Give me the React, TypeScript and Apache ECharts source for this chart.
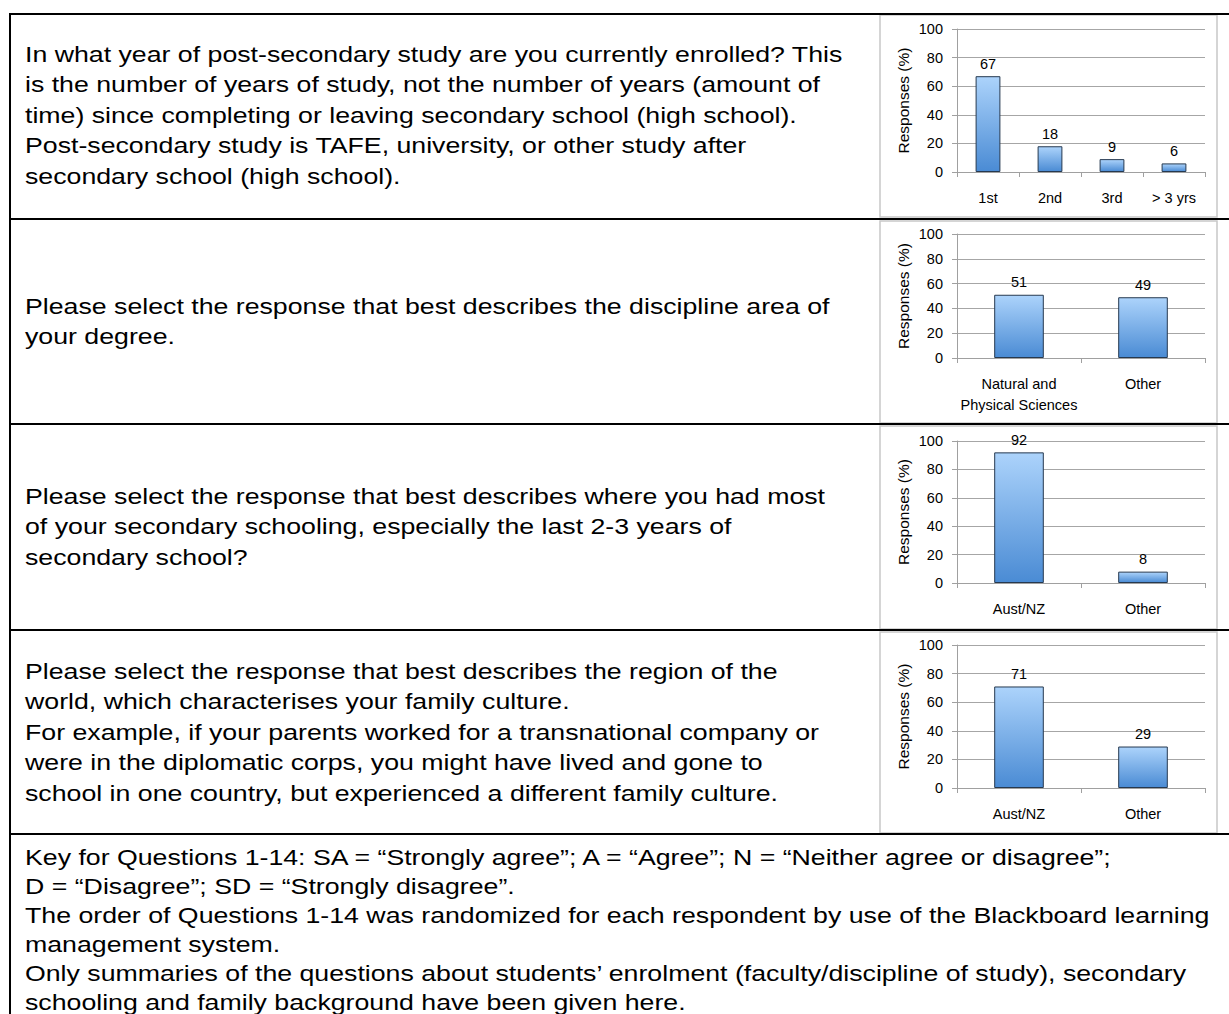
import React, { useEffect, useRef } from 'react';
import * as echarts from 'echarts';

// ---- Data ----
const yearCategories = ['1st', '2nd', '3rd', '> 3 yrs'];
const yearValues = [67, 18, 9, 6];
const disciplineCategories = ['Natural and\nPhysical Sciences', 'Other'];
const disciplineValues = [51, 49];
const schoolingCategories = ['Aust/NZ', 'Other'];
const schoolingValues = [92, 8];
const cultureCategories = ['Aust/NZ', 'Other'];
const cultureValues = [71, 29];
const yAxisMin = 0;
const yAxisMax = 100;
const yAxisInterval = 20;
const yAxisTitle = 'Responses (%)';

// ---- Texts ----
const q1Lines = [
  'In what year of post-secondary study are you currently enrolled? This',
  'is the number of years of study, not the number of years (amount of',
  'time) since completing or leaving secondary school (high school).',
  'Post-secondary study is TAFE, university, or other study after',
  'secondary school (high school).',
];
const q2Lines = [
  'Please select the response that best describes the discipline area of',
  'your degree.',
];
const q3Lines = [
  'Please select the response that best describes where you had most',
  'of your secondary schooling, especially the last 2-3 years of',
  'secondary school?',
];
const q4Lines = [
  'Please select the response that best describes the region of the',
  'world, which characterises your family culture.',
  'For example, if your parents worked for a transnational company or',
  'were in the diplomatic corps, you might have lived and gone to',
  'school in one country, but experienced a different family culture.',
];
const keyLines = [
  'Key for Questions 1-14: SA = \u201CStrongly agree\u201D; A = \u201CAgree\u201D; N = \u201CNeither agree or disagree\u201D;',
  'D = \u201CDisagree\u201D; SD = \u201CStrongly disagree\u201D.',
  'The order of Questions 1-14 was randomized for each respondent by use of the Blackboard learning',
  'management system.',
  'Only summaries of the questions about students\u2019 enrolment (faculty/discipline of study), secondary',
  'schooling and family background have been given here.',
];

const CF = '"Liberation Sans", Arial, sans-serif';
const TF = '"Liberation Sans", Arial, Helvetica, sans-serif';

const W = 1229;
const H = 1014;

export default function App() {
  const ref = useRef<HTMLDivElement>(null);

  useEffect(() => {
    if (!ref.current) return;
    const chart = echarts.init(ref.current, undefined, { renderer: 'svg', width: W, height: H });

    const rowLines = [14, 219, 424, 630, 834];
    const grids = [
      { top: 29, height: 143 },
      { top: 234, height: 124 },
      { top: 441, height: 142 },
      { top: 645, height: 143 },
    ];
    const frames = [
      { y: 15, h: 202 },
      { y: 221, h: 202 },
      { y: 426, h: 203 },
      { y: 632, h: 201 },
    ];
    const cats = [yearCategories, disciplineCategories, schoolingCategories, cultureCategories];
    const vals = [yearValues, disciplineValues, schoolingValues, cultureValues];

    const axisGray = '#a0a0a0';

    const textBlocks: { lines: string[]; first: number; pitch: number }[] = [
      { lines: q1Lines, first: 54, pitch: 30.5 },
      { lines: q2Lines, first: 306, pitch: 30.5 },
      { lines: q3Lines, first: 496, pitch: 30.5 },
      { lines: q4Lines, first: 671, pitch: 30.5 },
      { lines: keyLines, first: 857, pitch: 29 },
    ];

    const graphics: any[] = [];
    frames.forEach((f) => {
      graphics.push({
        type: 'rect',
        shape: { x: 880, y: f.y, width: 337, height: f.h },
        style: { fill: '#fff', stroke: '#c8c8c8', lineWidth: 1.5 },
        z: -10,
      });
    });
    rowLines.forEach((y) => {
      graphics.push({
        type: 'line',
        shape: { x1: 9, y1: y, x2: W, y2: y },
        style: { stroke: '#000', lineWidth: 2 },
        z: 10,
      });
    });
    graphics.push({
      type: 'line',
      shape: { x1: 10, y1: 13, x2: 10, y2: H },
      style: { stroke: '#000', lineWidth: 2 },
      z: 10,
    });
    textBlocks.forEach((b) => {
      b.lines.forEach((t, i) => {
        graphics.push({
          type: 'text',
          x: 25,
          y: b.first + i * b.pitch,
          scaleX: 1.187,
          style: {
            text: t,
            fontFamily: TF,
            fontSize: 22.5,
            fill: '#000',
            verticalAlign: 'middle',
            align: 'left',
          },
        });
      });
    });

    const option: any = {
      animation: false,
      backgroundColor: '#fff',
      grid: grids.map((g) => ({ left: 957, width: 248, top: g.top, height: g.height, containLabel: false })),
      xAxis: cats.map((c, i) => ({
        gridIndex: i,
        type: 'category',
        data: c,
        axisLine: { show: true, lineStyle: { color: axisGray, width: 1 } },
        axisTick: { show: true, length: 5, lineStyle: { color: axisGray } },
        axisLabel: { color: '#000', fontFamily: CF, fontSize: 14.5, margin: 15, lineHeight: 21, interval: 0 },
        splitLine: { show: false },
      })),
      yAxis: cats.map((_, i) => ({
        gridIndex: i,
        type: 'value',
        min: yAxisMin,
        max: yAxisMax,
        interval: yAxisInterval,
        name: yAxisTitle,
        nameLocation: 'middle',
        nameGap: 46,
        nameRotate: 90,
        nameTextStyle: { color: '#000', fontFamily: CF, fontSize: 15.5 },
        axisLine: { show: true, lineStyle: { color: axisGray, width: 1 } },
        axisTick: { show: true, length: 5, lineStyle: { color: axisGray } },
        axisLabel: { color: '#000', fontFamily: CF, fontSize: 14.5, margin: 14 },
        splitLine: { show: true, lineStyle: { color: '#a6a6a6', width: 1 } },
      })),
      series: vals.map((v, i) => ({
        type: 'bar',
        xAxisIndex: i,
        yAxisIndex: i,
        data: v,
        barWidth: '40%',
        itemStyle: {
          color: new echarts.graphic.LinearGradient(0, 0, 0, 1, [
            { offset: 0, color: '#acd3fb' },
            { offset: 1, color: '#4a8bd4' },
          ]),
          borderColor: '#26394f',
          borderWidth: 1,
        },
        label: { show: true, position: 'top', distance: 5, color: '#000', fontFamily: CF, fontSize: 14.5 },
      })),
      graphic: graphics,
    };

    chart.setOption(option);
    return () => chart.dispose();
  }, []);

  return (
    <div
      ref={ref}
      style={{ position: 'absolute', left: 0, top: 0, width: W, height: H, background: '#fff' }}
    />
  );
}
